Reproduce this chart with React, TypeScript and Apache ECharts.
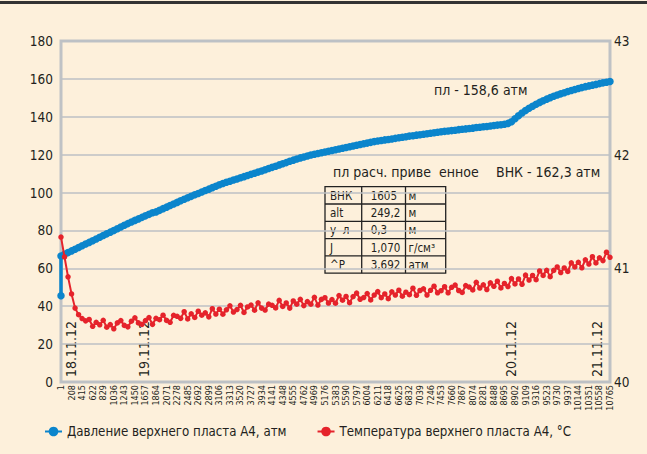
import React, { useEffect, useRef } from "react";
import * as echarts from "echarts";

const FONT = "'DejaVu Sans Condensed', 'Liberation Sans', sans-serif";

const tickLabels = [
  1, 208, 415, 622, 829, 1036, 1243, 1450, 1657, 1864, 2071, 2278, 2485, 2692, 2899, 3106, 3313, 3520,
  3727, 3934, 4141, 4348, 4555, 4762, 4969, 5176, 5383, 5590, 5797, 6004, 6211, 6418, 6625, 6832, 7039,
  7246, 7453, 7660, 7867, 8074, 8281, 8488, 8695, 8902, 9109, 9316, 9523, 9730, 9937, 10144, 10351,
  10558, 10765,
];

const sampleIdx = [
  1, 70, 139, 208, 277, 346, 415, 484, 553, 622, 691, 760, 829, 898, 967, 1036, 1105, 1174, 1243, 1312,
  1381, 1450, 1519, 1588, 1657, 1726, 1795, 1864, 1933, 2002, 2071, 2140, 2209, 2278, 2347, 2416, 2485,
  2554, 2623, 2692, 2761, 2830, 2899, 2968, 3037, 3106, 3175, 3244, 3313, 3382, 3451, 3520, 3589, 3658,
  3727, 3796, 3865, 3934, 4003, 4072, 4141, 4210, 4279, 4348, 4417, 4486, 4555, 4624, 4693, 4762, 4831,
  4900, 4969, 5038, 5107, 5176, 5245, 5314, 5383, 5452, 5521, 5590, 5659, 5728, 5797, 5866, 5935, 6004,
  6073, 6142, 6211, 6280, 6349, 6418, 6487, 6556, 6625, 6694, 6763, 6832, 6901, 6970, 7039, 7108, 7177,
  7246, 7315, 7384, 7453, 7522, 7591, 7660, 7729, 7798, 7867, 7936, 8005, 8074, 8143, 8212, 8281, 8350,
  8419, 8488, 8557, 8626, 8695, 8764, 8833, 8902, 8971, 9040, 9109, 9178, 9247, 9316, 9385, 9454, 9523,
  9592, 9661, 9730, 9799, 9868, 9937, 10006, 10075, 10144, 10213, 10282, 10351, 10420, 10489, 10558,
  10627, 10696, 10765,
];

const blueStart = 45.5;
const pressure = [
  66.5, 67.4, 68.3, 69.2, 70.1, 71.0, 71.9, 72.8, 73.7, 74.6,
  75.5, 76.4, 77.3, 78.2, 79.1, 80.0, 80.9, 81.8, 82.7, 83.6,
  84.5, 85.3, 86.1, 86.9, 87.7, 88.5, 89.3, 89.8, 90.6, 91.5,
  92.3, 93.2, 94.0, 94.8, 95.7, 96.5, 97.3, 98.0, 98.8, 99.5,
  100.3, 101.1, 101.8, 102.6, 103.3, 104.1, 104.8, 105.4, 106.0, 106.6,
  107.2, 107.8, 108.4, 109.0, 109.6, 110.2, 110.8, 111.4, 112.0, 112.7,
  113.3, 113.9, 114.6, 115.2, 115.8, 116.5, 117.1, 117.7, 118.3, 118.8,
  119.3, 119.8, 120.2, 120.6, 121.0, 121.4, 121.8, 122.2, 122.6, 123.0,
  123.4, 123.8, 124.2, 124.6, 125.0, 125.4, 125.8, 126.1, 126.5, 126.9,
  127.2, 127.5, 127.8, 128.0, 128.3, 128.6, 128.9, 129.2, 129.5, 129.8,
  130.0, 130.3, 130.5, 130.8, 131.0, 131.3, 131.6, 131.8, 132.1, 132.3,
  132.5, 132.7, 132.9, 133.2, 133.4, 133.6, 133.8, 134.0, 134.3, 134.5,
  134.7, 134.9, 135.1, 135.4, 135.6, 135.8, 136.1, 136.5, 137.4, 139.0,
  140.5, 142.0, 143.3, 144.5, 145.6, 146.6, 147.6, 148.5, 149.3, 150.1,
  150.8, 151.5, 152.1, 152.7, 153.3, 153.9, 154.4, 154.9, 155.4, 155.9,
  156.3, 156.7, 157.1, 157.5, 157.9, 158.2, 158.6,
];

const temperature = [
  41.275, 41.100, 40.925, 40.775, 40.650, 40.592, 40.558, 40.538, 40.550, 40.490,
  40.525, 40.503, 40.543, 40.482, 40.505, 40.468, 40.520, 40.540, 40.498, 40.485,
  40.535, 40.565, 40.520, 40.507, 40.540, 40.567, 40.507, 40.560, 40.548, 40.588,
  40.542, 40.525, 40.587, 40.578, 40.560, 40.618, 40.555, 40.600, 40.568, 40.623,
  40.588, 40.608, 40.573, 40.645, 40.598, 40.640, 40.597, 40.635, 40.670, 40.615,
  40.637, 40.675, 40.612, 40.660, 40.677, 40.632, 40.697, 40.650, 40.633, 40.685,
  40.675, 40.652, 40.718, 40.665, 40.695, 40.650, 40.713, 40.685, 40.727, 40.672,
  40.707, 40.685, 40.745, 40.677, 40.727, 40.742, 40.695, 40.725, 40.693, 40.760,
  40.720, 40.753, 40.698, 40.752, 40.782, 40.728, 40.743, 40.778, 40.722, 40.765,
  40.795, 40.742, 40.775, 40.733, 40.793, 40.765, 40.808, 40.755, 40.790, 40.768,
  40.825, 40.763, 40.805, 40.820, 40.765, 40.807, 40.843, 40.785, 40.803, 40.838,
  40.785, 40.833, 40.853, 40.805, 40.788, 40.848, 40.835, 40.810, 40.877, 40.827,
  40.855, 40.813, 40.872, 40.842, 40.887, 40.828, 40.867, 40.840, 40.910, 40.863,
  40.907, 40.860, 40.940, 40.897, 40.937, 40.900, 40.977, 40.938, 40.983, 40.927,
  40.982, 41.012, 40.963, 41.003, 40.973, 41.048, 41.012, 41.053, 41.005, 41.075,
  41.038, 41.102, 41.047, 41.093, 41.068, 41.142, 41.097,
];

const seriesNames = ["Давление верхнего пласта А4, атм", "Температура верхнего пласта А4, °С"];

const tableRows = [
  ["ВНК", "1605", "м"],
  ["alt", "249,2", "м"],
  ["у  л", "0,3", "м"],
  ["J", "1,070", "г/см³"],
  ["^P", "3,692", "атм"],
];

const dateLabels = [
  { text: "18.11.12", x: 70.5 },
  { text: "19.11.12", x: 143.5 },
  { text: "20.11.12", x: 511 },
  { text: "21.11.12", x: 596.5 },
];

const BG = "#FDF0DB";
const BLUE = "#0B85CC";
const RED = "#E5232B";
const TEXT = "#231f20";

export default function App() {
  const ref = useRef<HTMLDivElement>(null);
  useEffect(() => {
    document.body.style.margin = "0";
    const chart = echarts.init(ref.current!, null, { renderer: "svg" });

    const blueData: number[][] = [[sampleIdx[0], blueStart]];
    sampleIdx.forEach((x, i) => blueData.push([x, pressure[i]]));
    const redData = sampleIdx.map((x, i) => [x, temperature[i]]);

    const colX = [325, 361.7, 405.5, 445.7];
    const rowY0 = 186.7;
    const rowH = 17.3;
    const tableEls: any[] = [
      {
        type: "rect",
        shape: { x: colX[0], y: rowY0, width: colX[3] - colX[0], height: rowH * tableRows.length },
        style: { fill: BG, stroke: "#222", lineWidth: 1.3 },
      },
    ];
    for (let c = 1; c < 3; c++) {
      tableEls.push({
        type: "line",
        shape: { x1: colX[c], y1: rowY0, x2: colX[c], y2: rowY0 + rowH * tableRows.length },
        style: { stroke: "#222", lineWidth: 1.3 },
      });
    }
    for (let r = 1; r < tableRows.length; r++) {
      tableEls.push({
        type: "line",
        shape: { x1: colX[0], y1: rowY0 + rowH * r, x2: colX[3], y2: rowY0 + rowH * r },
        style: { stroke: "#222", lineWidth: 1.3 },
      });
    }
    tableRows.forEach((row, r) => {
      row.forEach((cell, c) => {
        tableEls.push({
          type: "text",
          x: colX[c] + (c === 0 ? 5 : c === 1 ? 9 : 3),
          y: rowY0 + rowH * r + rowH / 2 + 0.5,
          style: {
            text: cell,
            fill: TEXT,
            fontSize: 11.5,
            fontFamily: FONT,
            textAlign: "left",
            textVerticalAlign: "middle",
          },
        });
      });
    });

    const dateEls = dateLabels.map((d) => ({
      type: "text",
      x: d.x,
      y: 377,
      rotation: Math.PI / 2,
      style: {
        text: d.text,
        fill: TEXT,
        fontSize: 14,
        fontFamily: FONT,
        textAlign: "left",
        textVerticalAlign: "middle",
      },
    }));

    const annot = (text: string, x: number, y: number) => ({
      type: "text",
      x,
      y,
      style: {
        text,
        fill: TEXT,
        fontSize: 14,
        fontFamily: FONT,
        textAlign: "left",
        textVerticalAlign: "middle",
      },
    });

    const option: any = {
      animation: false,
      backgroundColor: BG,
      textStyle: { fontFamily: FONT },
      grid: {
        left: 61,
        right: 37,
        top: 41,
        bottom: 72,
        show: true,
        borderColor: "#BFC2C5",
        borderWidth: 3,
        backgroundColor: "transparent",
      },
      legend: {
        left: 39,
        top: 420,
        itemWidth: 17,
        itemHeight: 12,
        itemGap: 30,
        textStyle: { color: TEXT, fontSize: 13.2, fontFamily: FONT },
        data: seriesNames,
      },
      xAxis: {
        type: "value",
        min: tickLabels[0],
        max: tickLabels[tickLabels.length - 1],
        axisLine: { show: false },
        axisTick: { show: false },
        splitLine: { show: false },
        axisLabel: {
          customValues: tickLabels,
          formatter: (v: number) => String(v),
          rotate: 90,
          margin: 3,
          fontSize: 9,
          color: TEXT,
          fontFamily: FONT,
          showMinLabel: true,
          showMaxLabel: true,
        },
      },
      yAxis: [
        {
          type: "value",
          min: 0,
          max: 180,
          interval: 20,
          axisLine: { show: false },
          axisTick: { show: false },
          axisLabel: { fontSize: 13.5, color: TEXT, margin: 8, fontFamily: FONT },
          splitLine: { lineStyle: { color: "#BDC0C4", width: 1.5 } },
        },
        {
          type: "value",
          min: 40,
          max: 43,
          interval: 1,
          position: "right",
          axisLine: { show: false },
          axisTick: { show: false },
          axisLabel: { fontSize: 13.5, color: TEXT, margin: 4, fontFamily: FONT },
          splitLine: { show: false },
        },
      ],
      series: [
        {
          name: seriesNames[0],
          type: "line",
          data: blueData,
          symbol: "circle",
          symbolSize: 7.5,
          showAllSymbol: true,
          lineStyle: { color: BLUE, width: 3.5 },
          itemStyle: { color: BLUE },
          z: 2,
        },
        {
          name: seriesNames[1],
          type: "line",
          yAxisIndex: 1,
          data: redData,
          symbol: "circle",
          symbolSize: 5.5,
          showAllSymbol: true,
          lineStyle: { color: RED, width: 2 },
          itemStyle: { color: RED },
          z: 3,
        },
      ],
      graphic: [
        { type: "rect", shape: { x: 0, y: 1, width: 647, height: 3 }, style: { fill: "#333" }, z: 10 },
        annot("пл - 158,6 атм", 434, 90),
        annot("пл расч. приве  енное", 333, 172),
        annot("ВНК - 162,3 атм", 496, 172),
        ...tableEls,
        ...dateEls,
      ],
    };
    chart.setOption(option);
    return () => chart.dispose();
  }, []);
  return <div ref={ref} style={{ width: 647, height: 454 }} />;
}
